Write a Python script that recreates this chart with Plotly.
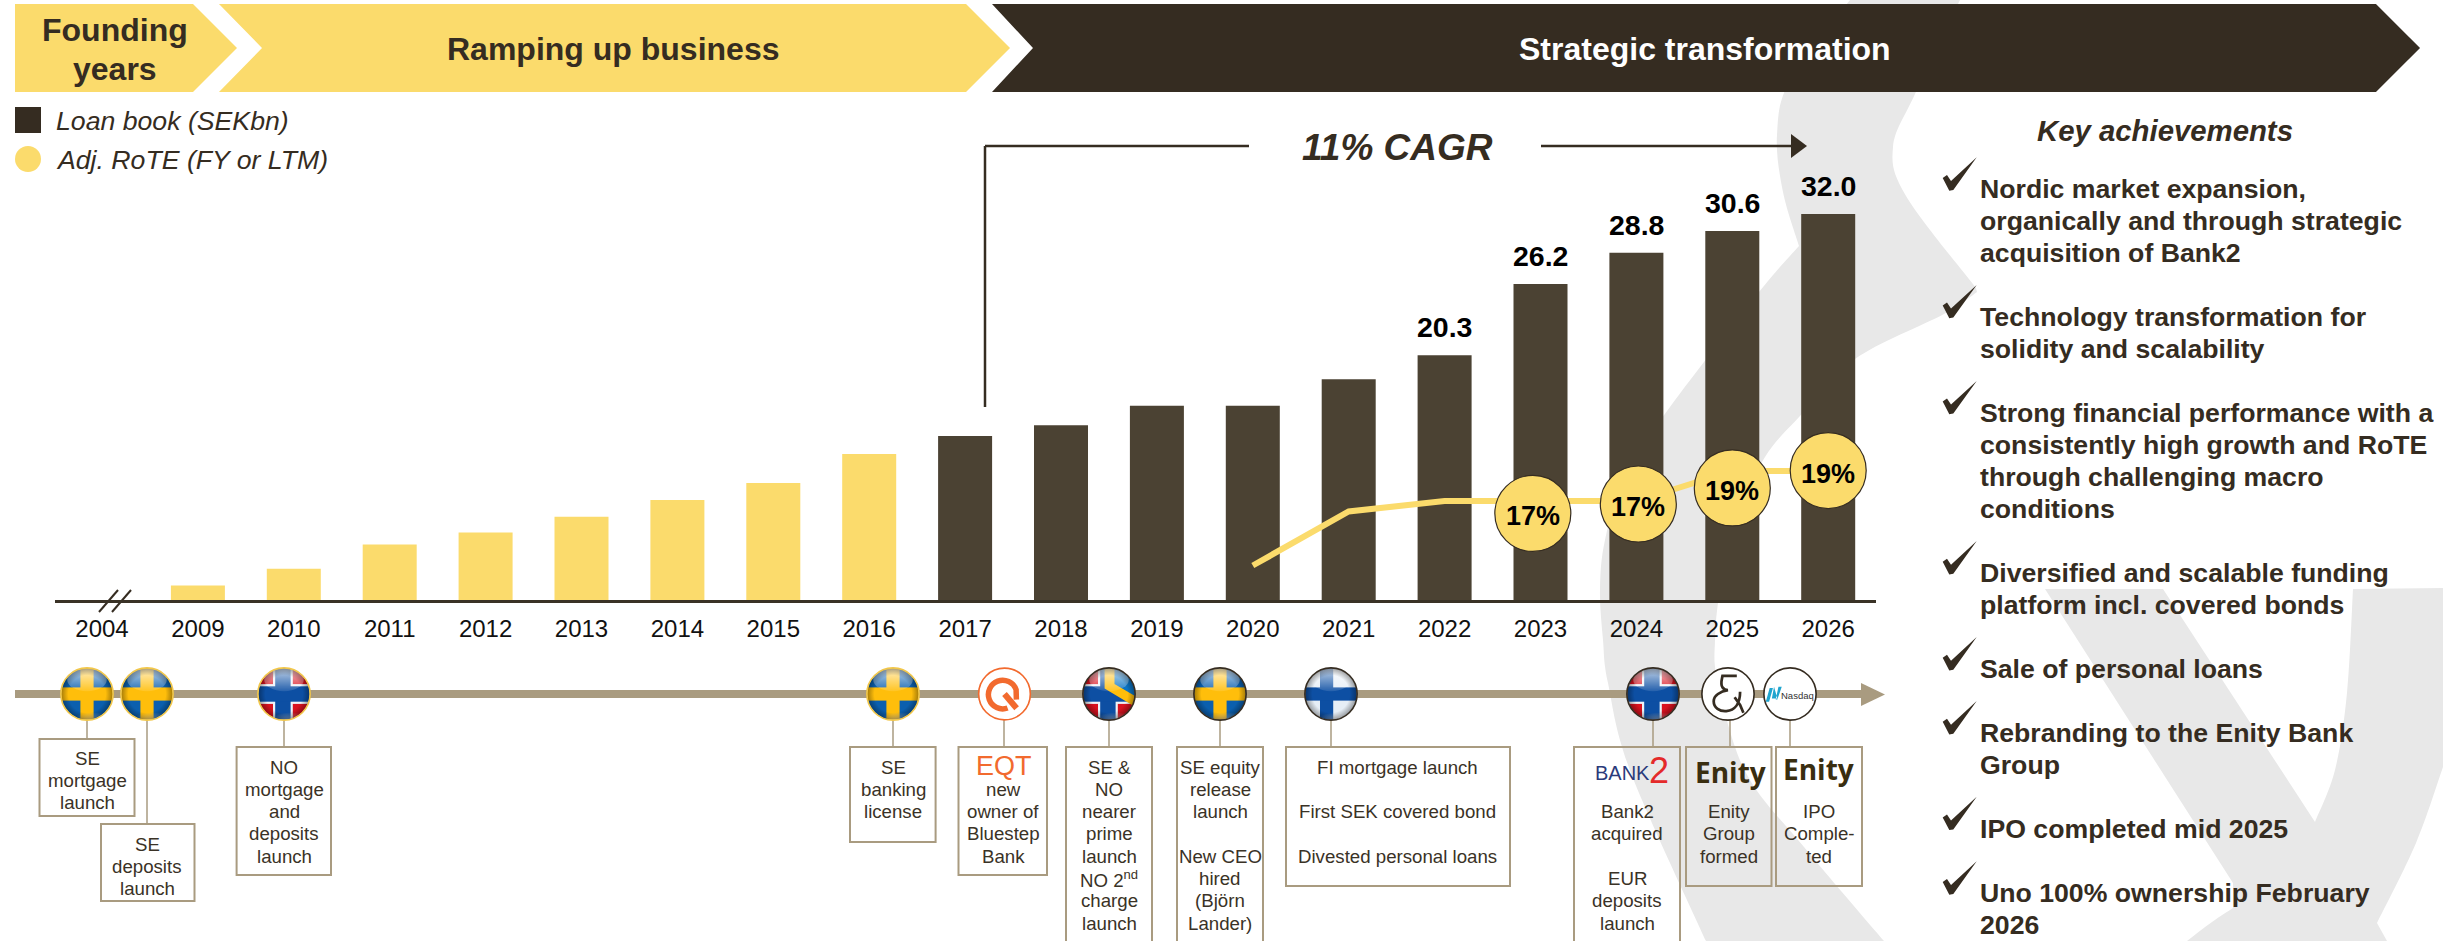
import base64
import plotly.graph_objects as go

W, H = 2443, 941

# ---------- data ----------
years = ["2004", "2009", "2010", "2011", "2012", "2013", "2014", "2015", "2016", "2017",
         "2018", "2019", "2020", "2021", "2022", "2023", "2024", "2025", "2026"]
loan_book = [None, 1.2, 2.6, 4.6, 5.6, 6.9, 8.3, 9.7, 12.1, 13.6,
             14.5, 16.1, 16.1, 18.3, 20.3, 26.2, 28.8, 30.6, 32.0]
labelled_years = ["2022", "2023", "2024", "2025", "2026"]
rote_years = ["2020", "2021", "2022", "2023", "2024", "2025", "2026"]
rote_values = [12.7, 16.3, 17.0, 17.0, 17.0, 19.0, 19.0]
bubble_years = ["2023", "2024", "2025", "2026"]
bubble_labels = ["17%", "17%", "19%", "19%"]
bubble_dx = [-0.08, 0.02, 0.0, 0.0]
bubble_dy = [-0.83, -0.2, -1.13, 0.03]

phases = ["Founding<br>years", "Ramping up business", "Strategic transformation"]
legend_labels = ["Loan book (SEKbn)", "Adj. RoTE (FY or LTM)"]
cagr_label = "11% CAGR"
panel_title = "Key achievements"
achievements = [
    ["Nordic market expansion,", "organically and through strategic", "acquisition of Bank2"],
    ["Technology transformation for", "solidity and scalability"],
    ["Strong financial performance with a", "consistently high growth and RoTE", "through challenging macro", "conditions"],
    ["Diversified and scalable funding", "platform incl. covered bonds"],
    ["Sale of personal loans"],
    ["Rebranding to the Enity Bank", "Group"],
    ["IPO completed mid 2025"],
    ["Uno 100% ownership February", "2026"],
]
achievement_rows = [
    [189.3, 221.3, 252.8], [316.9, 348.9], [412.9, 445, 477, 509], [573, 604.5],
    [669], [733, 764.6], [828.7], [893.3, 924.7],
]
milestone_lines = {
    "se_mortgage": ["SE", "mortgage", "launch"],
    "se_deposits": ["SE", "deposits", "launch"],
    "no_mortgage": ["NO", "mortgage", "and", "deposits", "launch"],
    "se_banking": ["SE", "banking", "license"],
    "eqt": ["", "new", "owner of", "Bluestep", "Bank"],
    "se_no": ["SE &", "NO", "nearer", "prime", "launch", "NO 2<sup>nd</sup>", "charge", "launch"],
    "se_equity": ["SE equity", "release", "launch", "", "New CEO", "hired", "(Björn", "Lander)"],
    "fi": ["FI mortgage launch", "", "First SEK covered bond", "", "Divested personal loans"],
    "bank2": ["", "", "Bank2", "acquired", "", "EUR", "deposits", "launch"],
    "enity": ["", "", "Enity", "Group", "formed"],
    "ipo": ["", "", "IPO", "Comple-", "ted"],
}

# ---------- style ----------
FONT = "Liberation Sans"
YEL = "#FBDB6C"
BAR = "#4B4233"
DARK = "#352C21"
TAUPE = "#A99B80"
GRAY = "#E8E8E8"

def px(x): return x / W
def py(y): return 1 - y / H

shapes, annotations, images = [], [], []

def text(x, y, s, size, color=DARK, bold=False, italic=False, anchor="center", family=FONT):
    if bold: s = f"<b>{s}</b>"
    if italic: s = f"<i>{s}</i>"
    annotations.append(dict(xref="paper", yref="paper", x=px(x), y=py(y), text=s, showarrow=False,
                            xanchor=anchor, yanchor="middle", borderpad=0,
                            font=dict(family=family, size=size, color=color)))

def poly(pts, fill, layer="below"):
    d = "M " + " L ".join(f"{px(a):.5f},{py(b):.5f}" for a, b in pts) + " Z"
    shapes.append(dict(type="path", path=d, xref="paper", yref="paper", fillcolor=fill,
                       line=dict(width=0), layer=layer))

def line(x0, y0, x1, y1, color, width, layer="below"):
    shapes.append(dict(type="line", xref="paper", yref="paper", x0=px(x0), y0=py(y0), x1=px(x1), y1=py(y1),
                       line=dict(color=color, width=width), layer=layer))

def rect(x0, y0, x1, y1, fill=None, color=None, width=0, layer="below"):
    shapes.append(dict(type="rect", xref="paper", yref="paper", x0=px(x0), y0=py(y0), x1=px(x1), y1=py(y1),
                       fillcolor=fill or "rgba(0,0,0,0)", line=dict(color=color or "rgba(0,0,0,0)", width=width),
                       layer=layer))

def smooth(pts):
    """Catmull-Rom through pixel points, in paper coordinates."""
    out = ""
    n = len(pts)
    for i in range(n - 1):
        p0 = pts[max(i - 1, 0)]; p1 = pts[i]; p2 = pts[i + 1]; p3 = pts[min(i + 2, n - 1)]
        c1 = (p1[0] + (p2[0] - p0[0]) / 6, p1[1] + (p2[1] - p0[1]) / 6)
        c2 = (p2[0] - (p3[0] - p1[0]) / 6, p2[1] - (p3[1] - p1[1]) / 6)
        out += f" C {px(c1[0]):.5f},{py(c1[1]):.5f} {px(c2[0]):.5f},{py(c2[1]):.5f} {px(p2[0]):.5f},{py(p2[1]):.5f}"
    return out

# ---------- background logo ----------
sec_a = [(1960, 0), (1915, 94), (1893, 147), (1906, 196), (1976, 288)]
sec_b = [(1977, 292), (1944, 314), (1855, 359), (1800, 416), (1765, 457), (1735, 520), (1720, 590),
         (1715, 640), (1718, 683), (1746, 773), (1804, 847), (1884, 941)]
sec_c = [(1706, 941), (1631, 773), (1608, 683), (1603, 640), (1600, 590), (1605, 540), (1625, 475),
         (1670, 407), (1759, 292), (1799, 246)]
sec_d = [(1799, 246), (1783, 192), (1777, 135), (1790, 80), (1850, 0)]
d = f"M {px(1960):.5f},{py(0):.5f}" + smooth(sec_a) + f" L {px(1977):.5f},{py(292):.5f}" + smooth(sec_b) \
    + f" L {px(1706):.5f},{py(941):.5f}" + smooth(sec_c) + smooth(sec_d) + " Z"
shapes.append(dict(type="path", path=d, xref="paper", yref="paper", fillcolor=GRAY, line=dict(width=0), layer="below"))
d = (f"M {px(2045):.5f},{py(589):.5f} L {px(2163):.5f},{py(589):.5f} L {px(2315):.5f},{py(822):.5f}"
     + smooth([(2315, 822), (2335, 770), (2347, 693), (2353, 589)])
     + f" L {px(2443):.5f},{py(588):.5f} L {px(2443):.5f},{py(767):.5f}"
     + smooth([(2443, 767), (2416, 843), (2377, 923)])
     + f" L {px(2387):.5f},{py(941):.5f} L {px(2187):.5f},{py(941):.5f}"
     + smooth([(2187, 941), (2212, 922), (2233, 908)])
     + f" L {px(2233):.5f},{py(883):.5f} Z")
shapes.append(dict(type="path", path=d, xref="paper", yref="paper", fillcolor=GRAY, line=dict(width=0), layer="below"))

# ---------- header chevrons ----------
poly([(15, 4), (193, 4), (237, 48), (193, 92), (15, 92)], YEL)
poly([(219, 4), (966, 4), (1010, 48), (966, 92), (219, 92), (262, 48)], YEL)
poly([(992, 4), (2376, 4), (2420, 48), (2376, 92), (992, 92), (1033, 48)], DARK)
a, b = phases[0].split("<br>")
text(115, 30, a, 32, bold=True)
text(115, 69, b, 32, bold=True)
text(613, 49, phases[1], 32, bold=True)
text(1705, 49, phases[2], 32, "#FFFFFF", bold=True)

# ---------- legend ----------
rect(15, 107, 41, 133, fill=DARK)
shapes.append(dict(type="circle", xref="paper", yref="paper", x0=px(15), x1=px(41), y0=py(146), y1=py(172),
                   fillcolor=YEL, line=dict(width=0), layer="below"))
text(54.5, 121, legend_labels[0], 26.67, italic=True, anchor="left")
text(54.5, 160, legend_labels[1], 26.67, italic=True, anchor="left")

# ---------- CAGR ----------
line(985, 407, 985, 146, DARK, 2.5)
line(985, 146, 1249, 146, DARK, 2.5)
line(1541, 146, 1795, 146, DARK, 2.5)
poly([(1791, 134), (1807, 146), (1791, 158)], DARK)
text(1397, 147, cagr_label, 37, bold=True, italic=True)

# ---------- axis break ----------
line(99, 612, 118, 590, DARK, 2)
line(112, 612, 131, 590, DARK, 2)

# ---------- timeline ----------
rect(15, 690, 1862, 698, fill=TAUPE)
poly([(1861, 683), (1885, 694.5), (1861, 706)], TAUPE)

boxes = [
    ("se_mortgage", 39.5, 739, 134.5, 816, 87, 758),
    ("se_deposits", 101, 824, 194.5, 901, 147, 844),
    ("no_mortgage", 236.6, 747, 331, 875, 284, 767),
    ("se_banking", 850, 747, 935.6, 842, 893, 767),
    ("eqt", 958.5, 747, 1047, 875, 1003, 767),
    ("se_no", 1066, 747, 1152, 965, 1109, 767),
    ("se_equity", 1177, 747, 1263, 965, 1220, 767),
    ("fi", 1286, 747, 1510, 886, 1397, 767),
    ("bank2", 1574, 747, 1680, 965, 1627, 767),
    ("enity", 1686, 747, 1771.5, 886, 1729, 767),
    ("ipo", 1776, 747, 1862, 886, 1819, 767),
]
for key, x0, y0, x1, y1, cx, first in boxes:
    rect(x0, y0, x1, y1, color=TAUPE, width=2)
    for i, row in enumerate(milestone_lines[key]):
        if row:
            text(cx, first + 22.3 * i, row, 18.67, color="#3A3226")

connectors = [(87, 739), (147, 824), (284, 747), (893, 747), (1004, 747), (1109, 747),
              (1220, 747), (1331, 747), (1653, 747), (1730, 747), (1790, 747)]
for x, y1 in connectors:
    line(x, 715, x, y1, TAUPE, 1.5)

def b64svg(body):
    svg = f'<svg xmlns="http://www.w3.org/2000/svg" viewBox="0 0 100 100" width="200" height="200">{body}</svg>'
    return "data:image/svg+xml;base64," + base64.b64encode(svg.encode()).decode()

GLOSS = '''
<defs>
<clipPath id="c"><circle cx="50" cy="50" r="47"/></clipPath>
<linearGradient id="t" x1="0" y1="0" x2="0" y2="1"><stop offset="0" stop-color="#fff" stop-opacity=".75"/><stop offset="1" stop-color="#fff" stop-opacity=".1"/></linearGradient>
<radialGradient id="s" cx=".5" cy=".5" r=".5"><stop offset=".72" stop-color="#000" stop-opacity="0"/><stop offset="1" stop-color="#000" stop-opacity=".35"/></radialGradient>
<radialGradient id="b" cx=".6" cy="1" r=".6"><stop offset="0" stop-color="#fff" stop-opacity=".55"/><stop offset="1" stop-color="#fff" stop-opacity="0"/></radialGradient>
</defs>'''

def flag(content, ring):
    return b64svg(GLOSS + f'<g clip-path="url(#c)">{content}'
                  '<ellipse cx="50" cy="24" rx="36" ry="21" fill="url(#t)"/>'
                  '<ellipse cx="56" cy="86" rx="34" ry="14" fill="url(#b)"/>'
                  '<circle cx="50" cy="50" r="47" fill="url(#s)"/></g>'
                  f'<circle cx="50" cy="50" r="47.5" fill="none" stroke="{ring}" stroke-width="3"/>')

SE = ('<rect width="100" height="100" fill="#0B5FAE"/><rect x="38" width="24" height="100" fill="#FFBE0B"/>'
      '<rect y="38" width="100" height="24" fill="#FFBE0B"/>')
NO = ('<rect width="100" height="100" fill="#D9121F"/><rect x="30" width="36" height="100" fill="#EEF3F8"/>'
      '<rect y="32" width="100" height="36" fill="#EEF3F8"/><rect x="34" width="28" height="100" fill="#0D4FA3"/>'
      '<rect y="36" width="100" height="28" fill="#0D4FA3"/>')
FI = ('<rect width="100" height="100" fill="#E6EEF6"/><rect x="30" width="24" height="100" fill="#0D4FA3"/>'
      '<rect y="38" width="100" height="24" fill="#0D4FA3"/>')
SENO = (NO + '<path d="M30 0 L100 0 L100 75 Z" fill="#0B74C4"/>'
        '<path d="M42 0 L60 0 L60 32 L100 55 L100 75 L42 40 Z" fill="#FFBE0B"/>')
EQT = ('<circle cx="50" cy="50" r="47" fill="#fff" stroke="#F26A2E" stroke-width="3"/>'
       '<path d="M70 63 L72 45 A26 26 0 1 0 52 76" transform="rotate(-8 50 50)" fill="none" stroke="#F26A2E" stroke-width="10"/>'
       '<path d="M50 50 L72 76" fill="none" stroke="#F26A2E" stroke-width="11"/>')
AMP = ('<circle cx="50" cy="50" r="47.5" fill="#fff" stroke="#352C21" stroke-width="3"/>'
       '<path d="M66 17 L40 17 C38 26 36 33 40 38 C43 42 47 43 50 43 C36 45 24 53 24 63 C24 75 35 82 47 81 '
       'C62 80 72 68 72 46 M62 56 L72 70 L78 84" fill="none" stroke="#352C21" stroke-width="5"/>')
NAS = ('<circle cx="50" cy="50" r="47.5" fill="#fff" stroke="#352C21" stroke-width="3"/>'
       '<path d="M6 64 L13 39 L19 39 L12 64 Z M17 58 L21 37 L27 58 Z M27 60 L35 37 L29 37 L24 60 Z" fill="#1FA5CF"/>')

flags = [
    (87, flag(SE, "#F2C74A")), (147, flag(SE, "#F2C74A")), (284, flag(NO, "#F2C74A")), (893, flag(SE, "#F2C74A")),
    (1004.5, b64svg(EQT)), (1109, flag(SENO, "#352C21")), (1220, flag(SE, "#352C21")), (1331, flag(FI, "#352C21")),
    (1653, flag(NO, "#352C21")), (1728, b64svg(AMP)), (1790, b64svg(NAS)),
]
R = 27.5
for cx, src in flags:
    images.append(dict(source=src, xref="paper", yref="paper", x=px(cx - R), y=py(694 - R),
                       sizex=2 * R / W, sizey=2 * R / H, xanchor="left", yanchor="top",
                       sizing="stretch", layer="above"))

# logos as text
text(1797, 695, "Nasdaq", 9.5, color="#333333")
text(1004, 766, "EQT", 27, color="#F26A2E")
text(1622, 773, "BANK", 20, color="#2B3A7A")
text(1659, 770, "2", 36, color="#E42A2A")
text(1730, 772, "Enity", 28, color="#3A2E10", bold=True, family="Open Sans")
text(1818, 769, "Enity", 28, color="#3A2E10", bold=True, family="Open Sans")

# ---------- right panel ----------
text(2165, 130.6, panel_title, 29.33, bold=True, italic=True)
CHECK = [(12.7, 28), (17, 25), (21, 31), (46.7, 7.3), (23.3, 40), (19.3, 40.7)]
for rows, ys in zip(achievements, achievement_rows):
    for s, y in zip(rows, ys):
        text(1978.5, y, s, 26.67, bold=True, anchor="left")
    dy = ys[0] - 189.3
    poly([(1930 + a, 150 + b + dy) for a, b in CHECK], DARK, layer="above")

# ---------- traces ----------
idx = {y: i for i, y in enumerate(years)}
xs = list(range(len(years)))
fig = go.Figure()
fig.add_trace(go.Bar(
    x=xs, y=loan_book, width=0.563, yaxis="y",
    marker=dict(color=[YEL if int(y) < 2017 else BAR for y in years], line=dict(width=0)),
    showlegend=False, hoverinfo="x+y"))
fig.add_trace(go.Scatter(
    x=[idx[y] for y in rote_years], y=rote_values, yaxis="y2", mode="lines",
    line=dict(color=YEL, width=6), showlegend=False))
bubble_x = [idx[y] + d for y, d in zip(bubble_years, bubble_dx)]
bubble_y = [rote_values[rote_years.index(y)] + d for y, d in zip(bubble_years, bubble_dy)]
fig.add_trace(go.Scatter(
    x=bubble_x, y=bubble_y, yaxis="y2", mode="markers",
    marker=dict(size=76, color=YEL, line=dict(color=DARK, width=1.2)), showlegend=False))
for bx, by, lab in zip(bubble_x, bubble_y, bubble_labels):
    annotations.append(dict(x=bx, y=by, xref="x", yref="y2", text=f"<b>{lab}</b>", showarrow=False,
                            yanchor="middle", yshift=-3, font=dict(family=FONT, size=27, color="#000000")))

for y in labelled_years:
    v = loan_book[idx[y]]
    annotations.append(dict(x=idx[y], y=v, xref="x", yref="y", text=f"<b>{v:.1f}</b>", showarrow=False,
                            yanchor="middle", yshift=28, font=dict(family=FONT, size=28.5, color="#000000")))

PX_PER_YEAR = 95.9
fig.update_layout(
    width=W, height=H, autosize=False, margin=dict(l=0, r=0, t=0, b=0, pad=0),
    paper_bgcolor="#FFFFFF", plot_bgcolor="rgba(0,0,0,0)", showlegend=False,
    font=dict(family=FONT, color=DARK),
    xaxis=dict(domain=[px(55), px(1876)], range=[(55 - 102) / PX_PER_YEAR, (1876 - 102) / PX_PER_YEAR],
               tickmode="array", tickvals=xs, ticktext=years, showgrid=False, zeroline=False,
               showline=True, linecolor="#3A3226", linewidth=3, ticks="", ticklabelstandoff=5,
               tickfont=dict(family=FONT, size=24, color="#111111"), anchor="y"),
    yaxis=dict(domain=[py(600), py(150)], range=[0, 450 / 12.06], visible=False, showgrid=False, zeroline=False),
    yaxis2=dict(domain=[py(600), py(150)], range=[10.4, 40.4], overlaying="y", visible=False,
                showgrid=False, zeroline=False),
    shapes=shapes, annotations=annotations, images=images,
)
fig.write_html("out.html", config={"displayModeBar": False},
               post_script="document.body.style.margin='0';document.body.style.overflow='hidden';")
